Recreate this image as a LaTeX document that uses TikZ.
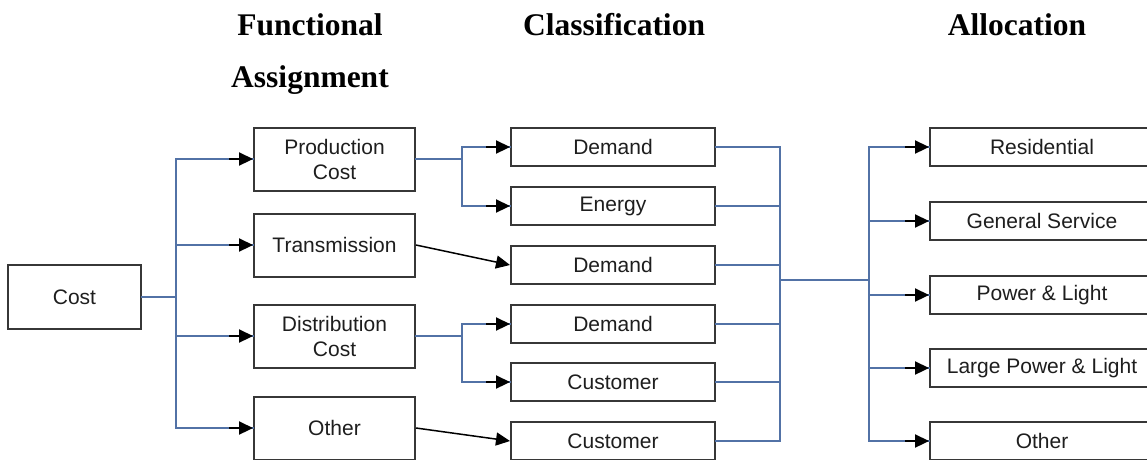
\documentclass[tikz,border=0pt]{standalone}
\usepackage{fontspec}
\setmainfont{Liberation Serif}
\newfontfamily\boxfont{Liberation Sans}
\usetikzlibrary{arrows.meta}
\definecolor{linkblue}{RGB}{82,114,166}
\definecolor{boxgray}{RGB}{55,55,55}
\definecolor{txtgray}{RGB}{30,30,30}
\newcommand\feed[2]{%
  \draw[blueline] (#1|-#2.west) -- (#2.west);
  \draw[tipline] ([xshift=-24pt]#2.west) -- (#2.west);}
\begin{document}
\begin{tikzpicture}[x=1pt,y=-1pt,
  box/.style={draw=boxgray, line width=2pt, fill=white, inner sep=0pt,
    text=txtgray, font=\boxfont\fontsize{21}{25}\selectfont, align=center},
  fbox/.style={box, minimum width=161pt, minimum height=63pt},
  cbox/.style={box, minimum width=204pt, minimum height=38pt},
  abox/.style={box, minimum width=224pt, minimum height=38pt},
  head/.style={font=\bfseries\fontsize{31.5}{52}\selectfont, inner sep=0pt, anchor=base},
  blueline/.style={draw=linkblue, line width=1.8pt, line cap=rect},
  tipline/.style={draw=black, line width=2.2pt, -{Triangle[length=14pt,width=13pt]}},
  diag/.style={draw=black, line width=1.5pt, -{Triangle[length=14pt,width=13pt]}}]
\useasboundingbox (0,0) rectangle (1147,459);

% headings
\node[head] (h1) at (310,35) {Functional};
\node[head] (h1b) at (310,87) {Assignment};
\node[head] (h2) at (614,35) {Classification};
\node[head] (h3) at (1017,35) {Allocation};

% nodes
\node[box, minimum width=133pt, minimum height=64pt] (cost) at (74.5,297) {Cost};

\node[fbox] (prod) at (334.5,159) {Production\\Cost};
\node[fbox] (trans) at (334.5,245) {Transmission};
\node[fbox] (dist) at (334.5,336) {Distribution\\Cost};
\node[fbox] (foth) at (334.5,428) {Other};

\node[cbox] (dem1) at (613,147) {Demand};
\node[cbox] (ener) at (613,206) {Energy};
\node[cbox] (dem2) at (613,265) {Demand};
\node[cbox] (dem3) at (613,324) {Demand};
\node[cbox] (cus1) at (613,382) {Customer};
\node[cbox] (cus2) at (613,441) {Customer};

\node[abox] (res) at (1042,147) {Residential};
\node[abox] (gen) at (1042,221) {General Service};
\node[abox] (pl) at (1042,295) {Power \& Light};
\node[abox] (lpl) at (1042,368) {Large Power \& Light};
\node[abox] (aoth) at (1042,441) {Other};

% trunk coordinates
\coordinate (ta) at (176,0);
\coordinate (tb) at (462,0);
\coordinate (tc) at (780,0);
\coordinate (td) at (869,0);
\coordinate (mid) at (0,280);

% Cost -> functional
\draw[blueline] (cost.east) -- (ta|-cost.east);
\draw[blueline] (ta|-prod.west) -- (ta|-foth.west);
\feed{ta}{prod}
\feed{ta}{trans}
\feed{ta}{dist}
\feed{ta}{foth}

% functional -> classification
\draw[blueline] (prod.east) -- (tb|-prod.east);
\draw[blueline] (tb|-dem1.west) -- (tb|-ener.west);
\feed{tb}{dem1}
\feed{tb}{ener}
\draw[blueline] (dist.east) -- (tb|-dist.east);
\draw[blueline] (tb|-dem3.west) -- (tb|-cus1.west);
\feed{tb}{dem3}
\feed{tb}{cus1}
\draw[diag] (trans.east) -- (dem2.west);
\draw[diag] (foth.east) -- (cus2.west);

% classification -> allocation
\foreach \n in {dem1,ener,dem2,dem3,cus1,cus2}
  \draw[blueline] (\n.east) -- (tc|-\n.east);
\draw[blueline] (tc|-dem1.east) -- (tc|-cus2.east);
\draw[blueline] (tc|-mid) -- (td|-mid);
\draw[blueline] (td|-res.west) -- (td|-aoth.west);
\feed{td}{res}
\feed{td}{gen}
\feed{td}{pl}
\feed{td}{lpl}
\feed{td}{aoth}
\end{tikzpicture}
\end{document}
